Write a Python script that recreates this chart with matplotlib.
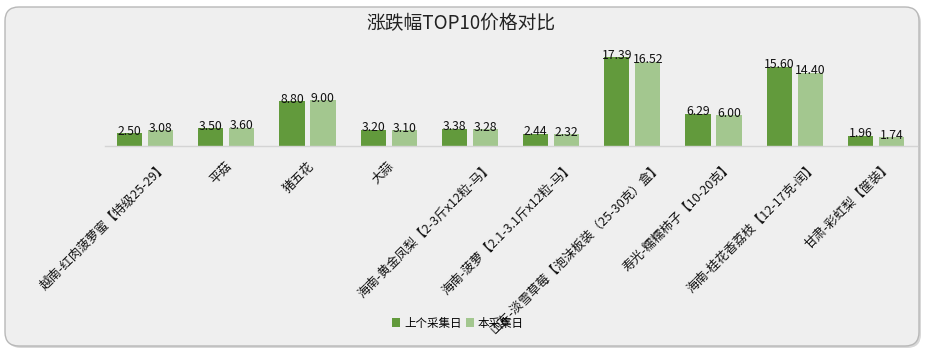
import matplotlib
matplotlib.use("Agg")
import matplotlib.pyplot as plt
import numpy as np
from matplotlib.patches import FancyBboxPatch
from matplotlib.transforms import ScaledTranslation, blended_transform_factory

plt.rcParams['font.family'] = ['Noto Sans CJK SC', 'DejaVu Sans']

categories = [
    "越南-红肉菠萝蜜【特级25-29】",
    "平菇",
    "猪五花",
    "大蒜",
    "海南-黄金凤梨【2-3斤x12粒-马】",
    "海南-菠萝【2.1-3.1斤x12粒-马】",
    "山东-淡雪草莓【泡沫板装（25-30克）盒】",
    "寿光-糯糯柿子【10-20克】",
    "海南-桂花香荔枝【12-17克-闰】",
    "甘肃-彩虹梨【筐装】",
]
prev_values = [2.50, 3.50, 8.80, 3.20, 3.38, 2.44, 17.39, 6.29, 15.60, 1.96]
curr_values = [3.08, 3.60, 9.00, 3.10, 3.28, 2.32, 16.52, 6.00, 14.40, 1.74]
series_names = ["上个采集日", "本采集日"]
title = "涨跌幅TOP10价格对比"

c_dark = "#629a3c"
c_light = "#a3c78f"
bg = "#efefef"

W, H = 926, 351
fig = plt.figure(figsize=(W / 100, H / 100), dpi=100)
fig.patch.set_facecolor("white")

# soft shadow + rounded outer frame
shadow = FancyBboxPatch((7 / W, 3 / H), (W - 12) / W, (H - 12) / H,
                        boxstyle="round,pad=0,rounding_size=0.015",
                        transform=fig.transFigure, facecolor="#d8d8d8",
                        edgecolor="none", zorder=-6, mutation_aspect=W / H)
fig.patches.append(shadow)
frame = FancyBboxPatch((5 / W, 5 / H), (W - 12) / W, (H - 12) / H,
                       boxstyle="round,pad=0,rounding_size=0.015",
                       transform=fig.transFigure, facecolor=bg,
                       edgecolor="#b8b8b8", linewidth=1.0, zorder=-5,
                       mutation_aspect=W / H)
fig.patches.append(frame)

ax = fig.add_axes([104.5 / W, 1 - 146 / H, 812 / W, 101.8 / H])
ax.set_facecolor("none")
ax.set_zorder(2)

x = np.arange(len(categories))
bw = 0.31
off = 0.19
b1 = ax.bar(x - off, prev_values, width=bw, color=c_dark, label=series_names[0], zorder=2)
b2 = ax.bar(x + off, curr_values, width=bw, color=c_light, label=series_names[1], zorder=2)

ax.set_xlim(-0.5, len(categories) - 0.5)
ax.set_ylim(0, 20)
for s in ["top", "right", "left"]:
    ax.spines[s].set_visible(False)
ax.spines["bottom"].set_color("#d4d4d4")
ax.spines["bottom"].set_linewidth(1.0)
ax.set_yticks([])
ax.set_xticks([])

for bars, vals in ((b1, prev_values), (b2, curr_values)):
    for r, v in zip(bars, vals):
        ax.annotate(f"{v:.2f}", (r.get_x() + r.get_width() / 2, v),
                    xytext=(0, -1), textcoords="offset points",
                    ha="center", va="baseline", fontsize=8.8,
                    family=["Noto Sans CJK SC", "DejaVu Sans"], color="#111111", zorder=3)

# category labels, rotated
trans = blended_transform_factory(ax.transData, ax.transAxes)
texts = []
for i, lab in enumerate(categories):
    t = ax.text(i, 0, lab, transform=trans, rotation=45, rotation_mode="anchor",
                ha="right", va="top", fontsize=9, color="#111111", clip_on=False)
    texts.append(t)
fig.canvas.draw()
r = fig.canvas.get_renderer()
for t in texts:
    t.set_rotation(0)
    w = t.get_window_extent(r).width
    t.set_rotation(45)
    dx = (0.16 * w * 0.707 - 4) / 100.0
    t.set_transform(trans + ScaledTranslation(dx, -14 / 100.0, fig.dpi_scale_trans))

fig.text(461 / W, 1 - 24 / H, title, ha="center", va="center", fontsize=13.5, color="#222222")

fig.legend(handles=[b1, b2], labels=series_names, loc="center",
           bbox_to_anchor=(458 / W, 1 - 323 / H), ncol=2, frameon=False,
           fontsize=8.3, handlelength=0.7, handleheight=0.7, handletextpad=0.3,
           columnspacing=0.4, borderpad=0)

fig.savefig("out.png", dpi=100, facecolor=fig.get_facecolor())
